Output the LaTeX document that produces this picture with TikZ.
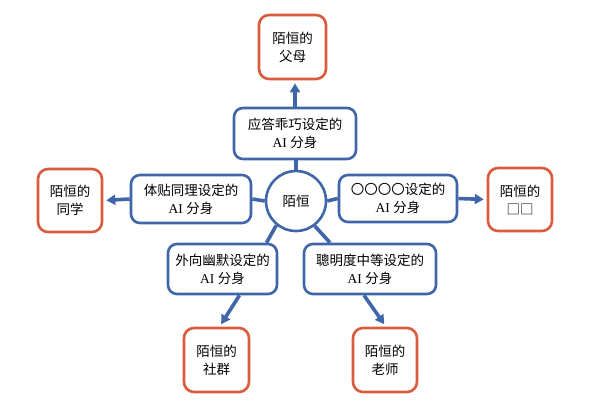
\documentclass[tikz,border=0pt]{standalone}
\usepackage{fontspec}
\setmainfont{Liberation Serif}
\newfontfamily\cjk{Noto Sans CJK SC}
\usetikzlibrary{arrows.meta}
\definecolor{hubblue}{HTML}{3F66A9}
\definecolor{relorange}{HTML}{D95C3F}
\tikzset{
  avatar/.style={draw=hubblue, line width=2.6pt, rounded corners=9pt, fill=white,
    align=center, inner sep=0pt, font=\fontsize{13.5}{18}\selectfont},
  relative/.style={draw=relorange, line width=2.6pt, rounded corners=10pt, fill=white,
    align=center, inner sep=0pt, font=\fontsize{13.5}{18}\selectfont\cjk},
  link/.style={hubblue, line width=3.6pt},
  push/.style={link, -{Triangle[length=9pt,width=10pt]}, shorten >=3pt}
}
\begin{document}
\begin{tikzpicture}[x=1pt, y=-1pt]
  \useasboundingbox (0,0) rectangle (594,404);
  % the hub
  \node [circle, draw=hubblue, line width=2.6pt, minimum size=60pt, fill=white,
    font=\fontsize{13.5}{18}\selectfont\cjk] (hub) at (296,201) {陌恒};
  % the five AI avatars
  \node [avatar, minimum width=122pt, minimum height=51pt] (polite) at (295,133.5)
    {{\cjk 应答乖巧设定的}\\AI {\cjk 分身}};
  \node [avatar, minimum width=120pt, minimum height=48pt] (caring) at (191,199)
    {{\cjk 体贴同理设定的}\\AI {\cjk 分身}};
  \node [avatar, minimum width=118pt, minimum height=47pt] (blank) at (398,198.5)
    {{\cjk 〇〇〇〇设定的}\\AI {\cjk 分身}};
  \node [avatar, minimum width=109pt, minimum height=50pt] (humor) at (222.5,269)
    {{\cjk 外向幽默设定的}\\AI {\cjk 分身}};
  \node [avatar, minimum width=132pt, minimum height=50pt] (smart) at (370,269)
    {{\cjk 聰明度中等设定的}\\AI {\cjk 分身}};
  % the people around
  \node [relative, minimum width=67pt, minimum height=64pt] (parents) at (292.5,47)
    {陌恒的\\父母};
  \node [relative, minimum width=64pt, minimum height=63pt] (mates) at (70,200.5)
    {陌恒的\\同学};
  \node [relative, minimum width=64pt, minimum height=63pt] (unknown) at (520,199.5)
    {陌恒的\\□□};
  \node [relative, minimum width=65pt, minimum height=64pt] (group) at (216.5,360)
    {陌恒的\\社群};
  \node [relative, minimum width=64pt, minimum height=64pt] (teacher) at (385,360)
    {陌恒的\\老师};
  % hub to avatars
  \draw [link] (hub.north) -- (hub.north |- polite.south);
  \draw [link] (hub.west) -- (caring.east);
  \draw [link] (hub.east) -- (blank.west);
  \draw [link] (hub.-129) -- ([xshift=44pt]humor.north);
  \draw [link] (hub.-53) -- ([xshift=-40pt]smart.north);
  % avatars to people
  \draw [push] (polite.north) -- (parents.south -| polite.north);
  \draw [push] (caring.west) -- (mates.east);
  \draw [push] (blank.east) -- (unknown.west);
  \draw [push] ([xshift=17pt]humor.south) -- ([xshift=3pt]group.north);
  \draw [push] ([xshift=-6pt]smart.south) -- ([xshift=1pt]teacher.north);
\end{tikzpicture}
\end{document}
